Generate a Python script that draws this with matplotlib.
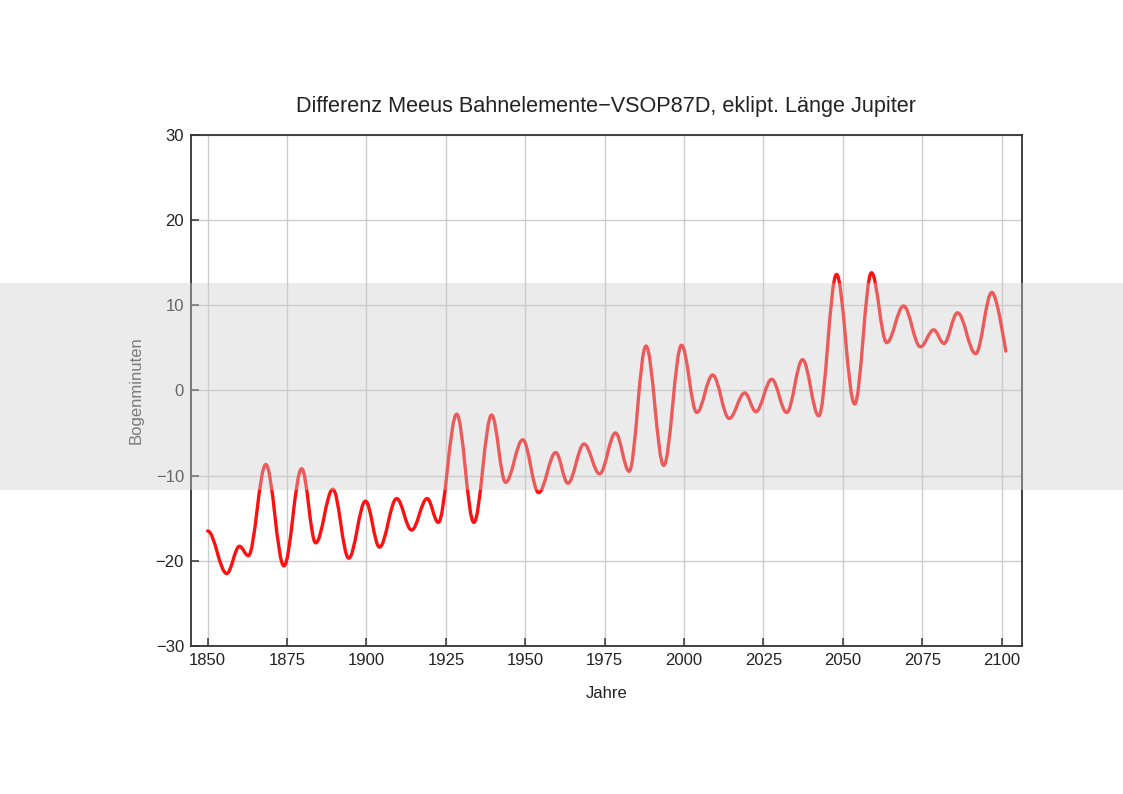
import matplotlib
matplotlib.use('Agg')
import matplotlib.pyplot as plt
from matplotlib.path import Path
from matplotlib.patches import PathPatch, Rectangle

# Extrema of the curve (year, arc minutes), plus start and end points
years = [1850.0, 1856.0, 1860.0, 1862.8, 1868.3, 1874.0, 1879.6, 1884.0, 1889.4, 1894.4,
         1899.7, 1904.1, 1909.5, 1914.2, 1919.1, 1922.6, 1928.4, 1933.8, 1939.4, 1943.8,
         1949.2, 1954.2, 1959.6, 1963.4, 1968.5, 1973.4, 1978.4, 1982.7, 1988.0, 1993.6,
         1999.2, 2004.0, 2009.0, 2014.2, 2019.1, 2022.6, 2027.6, 2032.3, 2037.3, 2042.4,
         2048.0, 2053.7, 2059.0, 2063.8, 2069.1, 2074.4, 2078.6, 2081.8, 2086.1, 2091.8,
         2096.9, 2101.3]
values = [-16.5, -21.5, -18.3, -19.4, -8.7, -20.6, -9.2, -17.9, -11.6, -19.7,
          -13.0, -18.4, -12.7, -16.4, -12.7, -15.5, -2.8, -15.5, -2.9, -10.8,
          -5.8, -12.0, -7.3, -10.9, -6.3, -9.8, -5.0, -9.5, 5.2, -8.8,
          5.3, -2.6, 1.8, -3.3, -0.3, -2.5, 1.3, -2.6, 3.6, -3.0,
          13.6, -1.6, 13.8, 5.6, 9.9, 5.1, 7.1, 5.5, 9.1, 4.3,
          11.5, 4.6]

x_ticks = [1850, 1875, 1900, 1925, 1950, 1975, 2000, 2025, 2050, 2075, 2100]
y_ticks = [-30, -20, -10, 0, 10, 20, 30]

title = "Differenz Meeus Bahnelemente\u2212VSOP87D, eklipt. Länge Jupiter"
xlabel = "Jahre"
ylabel = "Bogenminuten"

plt.rcParams['font.family'] = ['Liberation Sans', 'DejaVu Sans']

fig = plt.figure(figsize=(11.23, 7.94), dpi=100)
fig.patch.set_facecolor('white')
ax = fig.add_axes([0.1701, 0.1864, 0.9098 - 0.1701, 0.8304 - 0.1864])

ax.set_xlim(1844.75, 2106.3)
ax.set_ylim(-30, 30)
ax.set_xticks(x_ticks)
ax.set_yticks(y_ticks)
ax.grid(True, color='#cccccc', linewidth=1.0)
ax.set_axisbelow(True)

# smooth curve through extrema (horizontal tangents at extrema)
k = 0.363
verts = [(years[0], values[0])]
codes = [Path.MOVETO]
n = len(years)
for i in range(n - 1):
    x0, y0 = years[i], values[i]
    x1, y1 = years[i + 1], values[i + 1]
    dx = x1 - x0
    c1 = (x0 + k * dx, y0)
    if i == n - 2:
        c2 = (x1 - 0.05 * dx, y1 + 0.05 * (y0 - y1))
    else:
        c2 = (x1 - k * dx, y1)
    verts += [c1, c2, (x1, y1)]
    codes += [Path.CURVE4, Path.CURVE4, Path.CURVE4]
path = Path(verts, codes)
ax.add_patch(PathPatch(path, fill=False, edgecolor='#ff1010', linewidth=2.4,
                       capstyle='round', joinstyle='round', zorder=3))

for side in ['left', 'bottom', 'top', 'right']:
    ax.spines[side].set_color('#333333')
    ax.spines[side].set_linewidth(1.3)
ax.tick_params(axis='both', direction='in', length=6, width=1.1, color='#333333',
               labelsize=12, labelcolor='#222222', top=False, right=False, pad=5)

ax.set_title(title, fontsize=15.6, color='#222222', pad=16)
ax.set_xlabel(xlabel, fontsize=12, color='#222222', labelpad=13)
ax.set_ylabel(ylabel, fontsize=12, color='#444444', labelpad=8.5)

# light gray band overlaid over the whole figure width
band = Rectangle((0, 1 - 490 / 794), 1, (490 - 283.3) / 794, transform=fig.transFigure,
                 facecolor='#cdcdcd', edgecolor='none', alpha=0.4, zorder=100)
fig.patches.append(band)

fig.savefig('out.png', dpi=100)
